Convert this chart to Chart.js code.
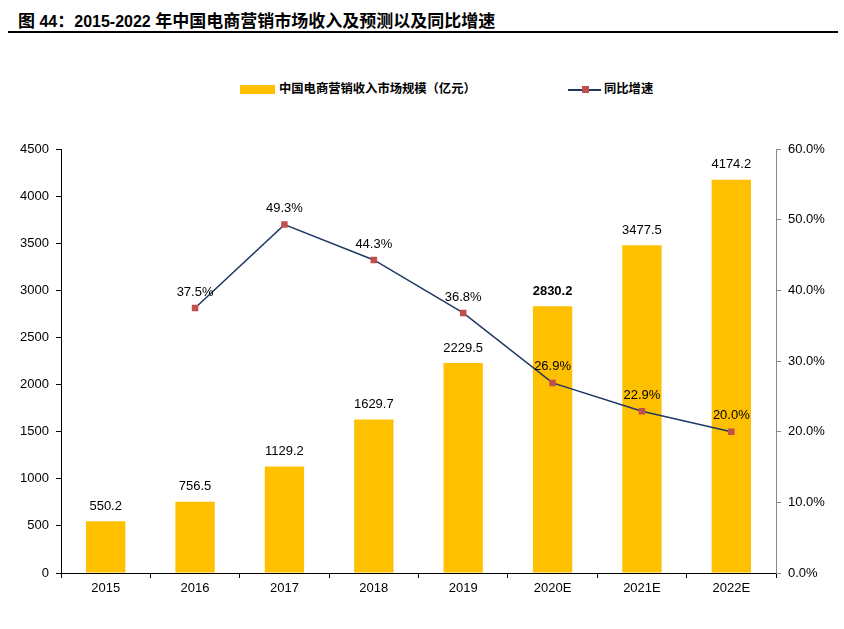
<!DOCTYPE html>
<html lang="zh">
<head>
    <meta charset="UTF-8">
    <title>2015-2022 中国电商营销市场收入</title>
    <style>
        * { margin: 0; padding: 0; box-sizing: border-box; }
        body {
            width: 844px; height: 629px; background: #fff; position: relative; overflow: hidden;
            font-family: 'Liberation Sans', Arial, 'Noto Sans CJK SC', sans-serif;
        }
        .title {
            position: absolute; left: 18px; top: 7px;
            font-size: 16px; font-weight: bold; color: #000; white-space: nowrap;
        }
        .title .cn { font-size: 17px; }
        .rule { position: absolute; left: 8px; width: 830px; top: 31px; height: 1.5px; background: #000; }
        .legend { position: absolute; top: 81px; left: 0; height: 16px; font-size: 12.3px; font-weight: bold; }
        .legend .item { position: absolute; top: 0; white-space: nowrap; line-height: 16px; }
        .swatch { position: absolute; left: 240px; top: 4px; width: 35px; height: 9px; background: #FFC000; }
        .lline { position: absolute; left: 568px; top: 8px; width: 33px; height: 1.5px; background: #1F3864; }
        .lmark { position: absolute; left: 582px; top: 5px; width: 7px; height: 7px; background: #C0504D; }
        canvas { position: absolute; left: 0; top: 0; }
    </style>
    <script src="https://cdn.jsdelivr.net/npm/chart.js"></script>
</head>
<body>
    <div class="title"><span class="cn">图</span> 44<span class="cn">：</span>2015-2022 <span class="cn">年中国电商营销市场收入及预测以及同比增速</span></div>
    <div class="rule"></div>
    <div class="legend">
        <div class="swatch"></div>
        <div class="item" style="left:279px">中国电商营销收入市场规模（亿元）</div>
        <div class="lline"></div>
        <div class="lmark"></div>
        <div class="item" style="left:604px">同比增速</div>
    </div>
    <canvas id="chart" width="844" height="629"></canvas>
    <script>
        const years = ['2015', '2016', '2017', '2018', '2019', '2020E', '2021E', '2022E'];
        const revenue = [550.2, 756.5, 1129.2, 1629.7, 2229.5, 2830.2, 3477.5, 4174.2];
        const growth = [null, 37.5, 49.3, 44.3, 36.8, 26.9, 22.9, 20.0];
        const boldLabels = ['2020E'];

        const font = "'Liberation Sans', Arial, sans-serif";

        // value labels above bars and points
        const labelPlugin = {
            id: 'labels',
            afterDatasetsDraw(chart) {
                const ctx = chart.ctx;
                ctx.save();
                ctx.textAlign = 'center';
                ctx.textBaseline = 'middle';
                ctx.fillStyle = '#000';
                chart.getDatasetMeta(0).data.forEach((bar, i) => {
                    ctx.font = (boldLabels.includes(years[i]) ? 'bold ' : '') + '13px ' + font;
                    ctx.fillText(revenue[i].toFixed(1), bar.x, bar.y - 15);
                });
                ctx.font = '13px ' + font;
                chart.getDatasetMeta(1).data.forEach((pt, i) => {
                    if (growth[i] == null) return;
                    ctx.fillText(growth[i].toFixed(1) + '%', pt.x, pt.y - 16);
                });
                ctx.restore();
            }
        };

        new Chart(document.getElementById('chart'), {
            type: 'bar',
            data: {
                labels: years,
                datasets: [
                    {
                        type: 'bar', data: revenue, yAxisID: 'y', backgroundColor: '#FFC000',
                        categoryPercentage: 1, barPercentage: 0.44, order: 2
                    },
                    {
                        type: 'line', data: growth, yAxisID: 'y1', borderColor: '#1F3864', borderWidth: 1.5,
                        pointStyle: 'rect', pointRadius: 4.6, pointBackgroundColor: '#C0504D',
                        pointBorderColor: '#C0504D', pointBorderWidth: 0, tension: 0, order: 1
                    }
                ]
            },
            options: {
                responsive: false,
                animation: false,
                layout: { padding: { top: 149, left: 0, right: 0, bottom: 0 } },
                plugins: { legend: { display: false }, title: { display: false }, tooltip: { enabled: false } },
                scales: {
                    x: {
                        grid: { drawOnChartArea: false, offset: true, tickLength: 5, color: '#000' },
                        border: { color: '#000', width: 1 },
                        ticks: { color: '#000', font: { family: font, size: 13 }, padding: 3, maxRotation: 0 },
                        afterFit(s) { s.height = 56; }
                    },
                    y: {
                        position: 'left', min: 0, max: 4500,
                        grid: { drawOnChartArea: false, tickLength: 5, color: '#000' },
                        border: { color: '#000', width: 1 },
                        ticks: {
                            stepSize: 500, color: '#000', font: { family: font, size: 13 }, padding: 7,
                            callback: v => String(v)
                        },
                        afterFit(s) { s.width = 61; }
                    },
                    y1: {
                        position: 'right', min: 0, max: 60,
                        grid: { drawOnChartArea: false, tickLength: 5, color: '#888' },
                        border: { color: '#888', width: 1 },
                        ticks: {
                            stepSize: 10, color: '#000', font: { family: font, size: 13 }, padding: 7,
                            callback: v => v.toFixed(1) + '%'
                        },
                        afterFit(s) { s.width = 68; }
                    }
                }
            },
            plugins: [labelPlugin]
        });
    </script>
</body>
</html>
